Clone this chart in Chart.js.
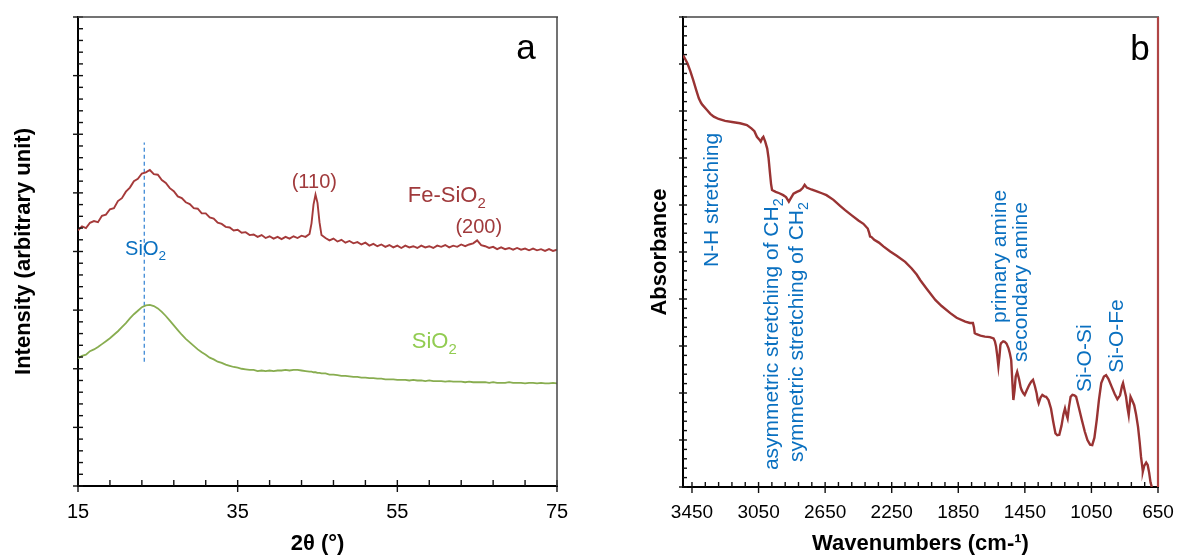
<!DOCTYPE html>
<html><head><meta charset="utf-8">
<script src="https://cdn.jsdelivr.net/npm/chart.js@4.4.1/dist/chart.umd.min.js"></script>
<style>
html,body{margin:0;padding:0;background:#fff;}
#wrap{position:relative;width:1180px;height:559px;overflow:hidden;background:#fff;}
.panel{position:absolute;top:0;width:590px;height:559px;}
</style></head><body>
<div id="wrap">
<div class="panel" style="left:0"><canvas id="xrd"></canvas></div>
<div class="panel" style="left:590px"><canvas id="ftir"></canvas></div>
</div>
<script>
// ---------- Panel a: XRD ----------
const twoTheta = [15,15.5,16,16.5,17,17.5,18,18.5,19,19.5,20,20.5,21,21.5,22,22.5,23,23.5,24,24.5,25,25.5,26,26.5,27,27.5,28,28.5,29,29.5,30,30.5,31,31.5,32,32.5,33,33.5,34,34.5,35,35.5,36,36.5,37,37.5,38,38.5,39,39.5,40,40.5,41,41.5,42,42.5,43,43.5,44,44.25,44.5,44.75,45,45.25,45.5,46,46.5,47,47.5,48,48.5,49,49.5,50,50.5,51,51.5,52,52.5,53,53.5,54,54.5,55,55.5,56,56.5,57,57.5,58,58.5,59,59.5,60,60.5,61,61.5,62,62.5,63,63.5,64,64.5,65,65.5,66,66.5,67,67.5,68,68.5,69,69.5,70,70.5,71,71.5,72,72.5,73,73.5,74,74.5,75];
const feSiO2 = [4.36,4.43,4.40,4.49,4.52,4.50,4.61,4.63,4.72,4.74,
  4.86,4.91,5.02,5.09,5.20,5.24,5.33,5.35,5.39,5.32,
  5.31,5.22,5.17,5.08,5.03,4.94,4.91,4.84,4.81,4.74,
  4.73,4.65,4.65,4.58,4.56,4.49,4.47,4.42,4.41,4.36,
  4.37,4.32,4.33,4.28,4.29,4.25,4.28,4.23,4.26,4.22,
  4.25,4.21,4.25,4.22,4.26,4.23,4.27,4.25,4.30,
  4.48,4.80,4.97,4.83,4.50,
  4.28,4.23,4.19,4.22,4.17,4.20,4.15,4.18,4.14,4.16,
  4.12,4.15,4.10,4.13,4.09,4.12,4.08,4.11,4.07,4.10,
  4.06,4.10,4.07,4.09,4.06,4.10,4.07,4.09,4.06,4.10,
  4.08,4.11,4.07,4.10,4.08,4.12,4.09,4.12,4.14,4.19,
  4.11,4.09,4.06,4.08,4.04,4.07,4.04,4.06,4.03,4.06,
  4.03,4.05,4.02,4.05,4.02,4.04,4.01,4.04,4.01,4.03];
const sio2 = [2.18,2.22,2.24,2.30,2.33,2.37,2.42,2.47,2.52,2.58,
  2.64,2.71,2.78,2.86,2.93,2.99,3.05,3.08,3.09,3.07,
  3.03,2.97,2.90,2.82,2.74,2.66,2.58,2.51,2.45,2.39,
  2.33,2.28,2.24,2.19,2.16,2.12,2.10,2.07,2.05,2.03,
  2.02,2.00,1.99,1.98,1.98,1.96,1.97,1.96,1.97,1.96,
  1.97,1.97,1.98,1.97,1.98,1.98,1.97,1.96,1.95,
  1.95,1.94,1.94,1.93,1.93,
  1.92,1.92,1.90,1.90,1.89,1.88,1.88,1.87,1.86,1.86,
  1.85,1.85,1.84,1.84,1.83,1.83,1.82,1.82,1.82,1.81,
  1.81,1.81,1.80,1.81,1.80,1.80,1.79,1.80,1.79,1.79,
  1.79,1.78,1.79,1.78,1.78,1.78,1.77,1.78,1.77,1.77,
  1.77,1.77,1.76,1.77,1.76,1.76,1.76,1.77,1.76,1.76,
  1.76,1.75,1.76,1.76,1.75,1.76,1.75,1.75,1.76,1.75];
const xrdTicks = [15, 35, 55, 75];
const sio2MarkerAngle = [23.3, 23.3];
const sio2MarkerRange = [2.12, 5.86];

// ---------- Panel b: FTIR ----------
const wavenumbers = [3504,3490,3477,3460,3443,3425,3409,3395,3387,3360,3340,3319,3290,3251,3200,3161,3120,3093,3075,3060,3045,3037,3028,3021,3010,2998,2990,2982,2975,2969,2947,2925,2902,2885,2868,2855,2840,2820,2800,2785,2773,2760,2733,2700,2670,2642,2600,2560,2530,2490,2450,2420,2394,2385,2380,2372,2355,2327,2300,2259,2220,2169,2130,2100,2078,2040,1988,1950,1898,1860,1808,1780,1762,1756,1751,1740,1717,1690,1660,1638,1630,1623,1616,1609,1602,1597,1593,1580,1571,1560,1548,1540,1532,1526,1519,1512,1505,1496,1485,1475,1469,1460,1451,1440,1424,1412,1401,1390,1379,1373,1367,1356,1345,1333,1322,1308,1293,1280,1266,1255,1243,1230,1218,1209,1201,1193,1185,1175,1164,1152,1142,1125,1108,1090,1074,1058,1045,1032,1018,1005,991,975,962,948,928,910,894,878,866,860,850,842,834,826,820,815,806,793,782,770,760,752,745,741,733,721,712,703,695,687,681];
const absorbance = [9.19,9.10,9.01,8.85,8.66,8.45,8.27,8.17,8.13,8.02,7.94,7.88,7.83,7.79,7.76,7.74,7.70,7.63,7.57,7.45,7.39,7.35,7.42,7.45,7.35,7.20,7.00,6.70,6.45,6.32,6.28,6.25,6.21,6.17,6.07,6.15,6.24,6.28,6.31,6.36,6.43,6.37,6.33,6.29,6.25,6.21,6.11,5.98,5.89,5.78,5.67,5.60,5.50,5.40,5.33,5.32,5.26,5.20,5.12,5.01,4.92,4.79,4.65,4.52,4.40,4.22,3.98,3.85,3.70,3.60,3.52,3.49,3.49,3.40,3.27,3.25,3.22,3.20,3.19,3.16,3.10,2.99,2.80,2.57,2.80,3.02,3.06,3.10,3.09,3.05,2.95,2.84,2.70,2.30,1.85,2.05,2.35,2.45,2.30,2.12,2.06,2.00,1.96,2.05,2.17,2.24,2.28,2.15,1.99,1.85,1.78,1.90,1.96,1.93,1.92,1.85,1.67,1.40,1.14,1.10,1.11,1.30,1.55,1.67,1.55,1.46,1.70,1.92,1.96,1.95,1.92,1.68,1.43,1.18,1.00,0.90,0.89,1.05,1.43,1.85,2.21,2.35,2.38,2.30,2.13,1.98,1.87,1.95,2.15,2.21,2.05,1.92,1.70,1.53,1.75,1.92,1.85,1.74,1.55,1.28,0.95,0.64,0.45,0.33,0.45,0.52,0.47,0.30,0.10,0.00];
const ftirTicks = [3450, 3050, 2650, 2250, 1850, 1450, 1050, 650];

const FAM = "'Liberation Sans', Arial, Helvetica, sans-serif";
Chart.defaults.font.family = FAM;

function tickMarks(cfg) {
  return {
    id: 'tickMarks',
    afterDraw(chart) {
      const ctx = chart.ctx, a = chart.chartArea, xs = chart.scales.x, ys = chart.scales.y;
      const seg = (x1, y1, x2, y2) => { ctx.beginPath(); ctx.moveTo(x1, y1); ctx.lineTo(x2, y2); ctx.stroke(); };
      ctx.save();
      ctx.strokeStyle = '#111'; ctx.lineWidth = 1.4;
      cfg.xMajor.forEach(v => { const p = xs.getPixelForValue(v); seg(p, a.bottom - cfg.xIn, p, a.bottom + cfg.xOut); });
      const nx = Math.round((cfg.xMinorTo - cfg.xMinorFrom) / cfg.xMinorStep);
      for (let i = 0; i <= nx; i++) {
        const v = cfg.xMinorFrom + i * cfg.xMinorStep;
        if (cfg.xMajor.some(m => Math.abs(m - v) < 1e-6)) continue;
        const p = xs.getPixelForValue(v); seg(p, a.bottom - cfg.xIn, p, a.bottom);
      }
      const ny = Math.round((ys.max - ys.min) / cfg.yMinorStep);
      const per = Math.round(cfg.yMajorStep / cfg.yMinorStep);
      for (let i = 0; i <= ny; i++) {
        const p = ys.getPixelForValue(ys.min + i * cfg.yMinorStep);
        if (i % per === 0) seg(a.left - cfg.yOut, p, a.left + cfg.yIn, p);
        else seg(a.left, p, a.left + cfg.yIn, p);
      }
      ctx.strokeStyle = cfg.topColor; ctx.lineWidth = cfg.topWidth; seg(a.left, a.top, a.right + 1, a.top);
      ctx.strokeStyle = cfg.rightColor; ctx.lineWidth = cfg.rightWidth; seg(a.right, a.top, a.right, a.bottom);
      ctx.restore();
    }
  };
}

function drawParts(ctx, parts, px, py, size, weight, color, align, rotate) {
  ctx.save();
  ctx.translate(px, py);
  if (rotate) ctx.rotate(-Math.PI / 2);
  ctx.fillStyle = color; ctx.textBaseline = 'alphabetic'; ctx.textAlign = 'left';
  const fontFor = p => `${weight} ${p.sub ? size * 0.68 : size}px ${FAM}`;
  const widths = parts.map(p => { ctx.font = fontFor(p); return ctx.measureText(p.t).width; });
  const total = widths.reduce((s, w) => s + w, 0);
  let cx = align === 'center' ? -total / 2 : 0;
  const by = rotate ? size * 0.28 : 0;
  parts.forEach((p, i) => { ctx.font = fontFor(p); ctx.fillText(p.t, cx, by + (p.sub ? size * 0.24 : 0)); cx += widths[i]; });
  ctx.restore();
}

function annotations(items) {
  return {
    id: 'annotations',
    afterDraw(chart) {
      const xs = chart.scales.x, ys = chart.scales.y;
      items.forEach(it => drawParts(chart.ctx, it.parts, xs.getPixelForValue(it.x), ys.getPixelForValue(it.y),
        it.size, it.weight || 'normal', it.color, it.align || 'left', !!it.rotate));
    }
  };
}

const BLUE = '#0a70c0', RED = '#a03a3c', GREEN = '#92cc52';

new Chart(document.getElementById('xrd'), {
  type: 'line',
  data: { datasets: [
    { data: twoTheta.map((t, i) => ({ x: t, y: feSiO2[i] })), borderColor: '#a53a3a', borderWidth: 1.9, pointRadius: 0, tension: 0 },
    { data: twoTheta.map((t, i) => ({ x: t, y: sio2[i] })), borderColor: '#88ad50', borderWidth: 1.8, pointRadius: 0, tension: 0 },
    { data: sio2MarkerAngle.map((t, i) => ({ x: t, y: sio2MarkerRange[i] })), borderColor: '#2f80d2', borderWidth: 1.2, borderDash: [4, 3], pointRadius: 0 }
  ]},
  options: {
    responsive: true, maintainAspectRatio: false, animation: false, devicePixelRatio: 1,
    layout: { padding: { left: 0, right: 33, top: 17, bottom: 0 } },
    plugins: { legend: { display: false }, tooltip: { enabled: false } },
    scales: {
      x: { type: 'linear', min: 15, max: 75,
        afterBuildTicks: s => { s.ticks = xrdTicks.map(v => ({ value: v })); },
        afterFit: s => { s.height = 73; },
        grid: { display: false, drawTicks: true, tickLength: 14 },
        border: { display: true, color: '#000', width: 2 },
        ticks: { color: '#000', font: { size: 20 }, padding: 0, maxRotation: 0, autoSkip: false, callback: v => String(v) },
        title: { display: true, text: '2θ (°)', color: '#000', font: { size: 22, weight: 'bold' }, padding: { top: 0, bottom: 2 } } },
      y: { type: 'linear', min: 0, max: 8,
        afterFit: s => { s.width = 78; },
        grid: { display: false, drawTicks: false },
        border: { display: true, color: '#000', width: 2 },
        ticks: { display: false },
        title: { display: true, text: 'Intensity (arbitrary unit)', color: '#000', font: { size: 22, weight: 'bold' }, padding: { top: 11, bottom: 0 } } }
    }
  },
  plugins: [
    tickMarks({ xMajor: xrdTicks, xMinorFrom: 15, xMinorTo: 75, xMinorStep: 4, xIn: 6, xOut: 6, yMajorStep: 1, yMinorStep: 0.2, yIn: 5, yOut: 5,
      topColor: '#444', topWidth: 1.5, rightColor: '#444', rightWidth: 1.5 }),
    annotations([
      { parts: [{ t: 'a' }], x: 71.1, y: 7.28, size: 35, color: '#000', align: 'center' },
      { parts: [{ t: 'SiO' }, { t: '2', sub: true }], x: 20.9, y: 3.94, size: 20, color: BLUE },
      { parts: [{ t: '(110)' }], x: 44.6, y: 5.08, size: 20, color: RED, align: 'center' },
      { parts: [{ t: 'Fe-SiO' }, { t: '2', sub: true }], x: 56.3, y: 4.84, size: 22, color: RED },
      { parts: [{ t: '(200)' }], x: 65.2, y: 4.32, size: 20, color: RED, align: 'center' },
      { parts: [{ t: 'SiO' }, { t: '2', sub: true }], x: 56.8, y: 2.35, size: 22, color: GREEN }
    ])
  ]
});

new Chart(document.getElementById('ftir'), {
  type: 'line',
  data: { datasets: [
    { data: wavenumbers.map((w, i) => ({ x: w, y: absorbance[i] })), borderColor: '#993333', borderWidth: 2.4, pointRadius: 0, tension: 0 }
  ]},
  options: {
    responsive: true, maintainAspectRatio: false, animation: false, devicePixelRatio: 1,
    layout: { padding: { left: 0, right: 22, top: 17, bottom: 0 } },
    plugins: { legend: { display: false }, tooltip: { enabled: false } },
    scales: {
      x: { type: 'linear', min: 650, max: 3504, reverse: true,
        afterBuildTicks: s => { s.ticks = ftirTicks.map(v => ({ value: v })); },
        afterFit: s => { s.height = 72; },
        grid: { display: false, drawTicks: true, tickLength: 14 },
        border: { display: true, color: '#000', width: 2 },
        ticks: { color: '#000', font: { size: 19 }, padding: 0, maxRotation: 0, autoSkip: false, callback: v => String(v) },
        title: { display: true, text: 'Wavenumbers (cm-¹)', color: '#000', font: { size: 22, weight: 'bold' }, padding: { top: 0, bottom: 2 } } },
      y: { type: 'linear', min: 0, max: 10,
        afterFit: s => { s.width = 93; },
        grid: { display: false, drawTicks: false },
        border: { display: true, color: '#000', width: 2 },
        ticks: { display: false },
        title: { display: true, text: 'Absorbance', color: '#000', font: { size: 22, weight: 'bold' }, padding: { top: 57, bottom: 0 } } }
    }
  },
  plugins: [
    tickMarks({ xMajor: ftirTicks, xMinorFrom: 650, xMinorTo: 3450, xMinorStep: 80, xIn: 5, xOut: 6, yMajorStep: 1, yMinorStep: 0.2, yIn: 4, yOut: 4,
      topColor: '#444', topWidth: 1.5, rightColor: '#b04545', rightWidth: 2.2 }),
    annotations([
      { parts: [{ t: 'b' }], x: 758, y: 9.09, size: 35, color: '#000', align: 'center' },
      { parts: [{ t: 'N-H stretching' }], x: 3330, y: 4.68, size: 21, color: BLUE, rotate: true },
      { parts: [{ t: 'asymmetric stretching of CH' }, { t: '2', sub: true }], x: 2969, y: 0.36, size: 21, color: BLUE, rotate: true },
      { parts: [{ t: 'symmetric stretching of CH' }, { t: '2', sub: true }], x: 2819, y: 0.53, size: 21, color: BLUE, rotate: true },
      { parts: [{ t: 'primary amine' }], x: 1599, y: 3.49, size: 21, color: BLUE, rotate: true },
      { parts: [{ t: 'secondary amine' }], x: 1473, y: 2.66, size: 21, color: BLUE, rotate: true },
      { parts: [{ t: 'Si-O-Si' }], x: 1089, y: 2.02, size: 21, color: BLUE, rotate: true },
      { parts: [{ t: 'Si-O-Fe' }], x: 897, y: 2.43, size: 21, color: BLUE, rotate: true }
    ])
  ]
});
</script>
</body></html>
